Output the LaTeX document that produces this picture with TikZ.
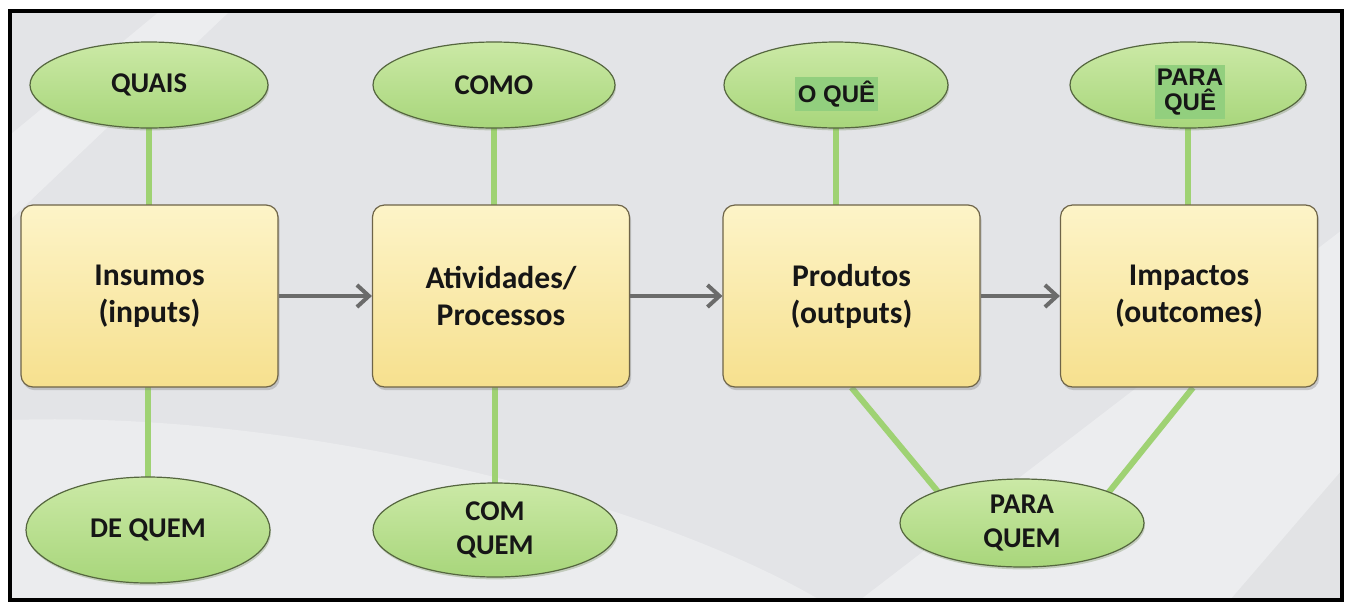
\documentclass[tikz,border=0pt]{standalone}
\usepackage{fontspec}
\setmainfont{Carlito}
\newfontfamily\arialfont{Liberation Sans}
\usetikzlibrary{shapes.geometric,arrows.meta,shadows,backgrounds}
\definecolor{bgc}{HTML}{E3E4E7}
\definecolor{boxtop}{HTML}{FDF4C8}
\definecolor{boxbot}{HTML}{F6E08E}
\definecolor{boxedge}{HTML}{6E6448}
\definecolor{elltop}{HTML}{CBE9A6}
\definecolor{ellbot}{HTML}{A8D67B}
\definecolor{elledge}{HTML}{55663F}
\definecolor{linkc}{HTML}{9FD273}
\definecolor{arrowc}{HTML}{6B6B6B}
\definecolor{hlc}{HTML}{92CF7E}
\definecolor{textc}{HTML}{161616}
\tikzset{
  stagebox/.style={rectangle, rounded corners=6pt, draw=boxedge, line width=0.6pt,
    top color=boxtop, bottom color=boxbot, minimum width=128.5pt, minimum height=91pt,
    align=center, text=textc, font=\bfseries\fontsize{15.8}{18.5}\selectfont,
    drop shadow={opacity=0.35, shadow xshift=0.8pt, shadow yshift=-1.6pt}},
  ell/.style={ellipse, draw=elledge, line width=0.6pt, top color=elltop, bottom color=ellbot,
    inner sep=0pt, align=center, text=textc, font=\bfseries\fontsize{14.3}{16.8}\selectfont,
    drop shadow={opacity=0.3, shadow xshift=0.5pt, shadow yshift=-1.2pt, fill=ellbot!60!black}},
  hltext/.style={fill=hlc, inner xsep=1pt, inner ysep=2pt, align=center, text=textc,
    font=\arialfont\bfseries\fontsize{12}{12.5}\selectfont},
  link/.style={draw=linkc, line width=3pt},
  flow/.style={draw=arrowc, line width=2pt, -{Straight Barb[length=6pt,width=11pt,line width=2pt]}}
}
\begin{document}
\begin{tikzpicture}[x=0.5pt,y=-0.5pt]
\useasboundingbox (0,0) rectangle (1348,606);
% stage boxes
\node[stagebox] (ins)  at (149.5,296) {Insumos\\(inputs)};
\node[stagebox] (ativ) at (501,296) {Atividades/\\Processos};
\node[stagebox] (prod) at (851.5,296) {Produtos\\(outputs)};
\node[stagebox] (imp)  at (1189,296) {Impactos\\(outcomes)};
% top ellipses
\node[ell, minimum width=119pt, minimum height=43pt] (quais) at (149,85) {QUAIS};
\node[ell, minimum width=121pt, minimum height=43pt] (como) at (494,85) {COMO};
\node[ell, minimum width=112pt, minimum height=43pt] (oque) at (836,85) {};
\node[ell, minimum width=118pt, minimum height=43pt] (paraque) at (1188,85) {};
\node[hltext, minimum width=41.5pt] (oquet) at (836.5,94) {O QUÊ};
\node[hltext] (paraquet) at (1190,92) {PARA\\QUÊ};
% bottom ellipses
\node[ell, minimum width=122pt, minimum height=53pt] (dequem) at (148,530) {DE QUEM};
\node[ell, minimum width=122pt, minimum height=47pt] (comquem) at (495,530) {COM\\QUEM};
\node[ell, minimum width=122pt, minimum height=44pt] (paraquem) at (1022,523) {PARA\\QUEM};
\begin{scope}[on background layer]
  \fill[white] (0,0) rectangle (1348,606);
  \fill[bgc] (10,11) rectangle (1342,600);
  \fill[white, opacity=0.35] (10,135) -- (160,11) -- (230,11) -- (10,220) -- cycle;
  \fill[white, opacity=0.3] (10,420) .. controls (300,410) and (650,500) .. (820,600) -- (10,600) -- cycle;
  \fill[white, opacity=0.35] (860,600) -- (1342,230) -- (1342,600) -- cycle;
  \fill[black, opacity=0.04] (1230,600) -- (1342,470) -- (1342,600) -- cycle;
  \draw[link] (quais.center) -- (quais.center |- ins.center);
  \draw[link] (como.center) -- (como.center |- ativ.center);
  \draw[link] (oque.center) -- (oque.center |- prod.center);
  \draw[link] (paraque.center) -- (paraque.center |- imp.center);
  \draw[link] (dequem.center) -- (dequem.center |- ins.center);
  \draw[link] (comquem.center) -- (comquem.center |- ativ.center);
  \draw[link] (prod.south) -- ([xshift=-29pt]paraquem.center);
  \draw[link] ([xshift=2pt]imp.south) -- ([xshift=31pt]paraquem.center);
\end{scope}
% flow arrows
\draw[flow] (ins.east) -- (ativ.west);
\draw[flow] (ativ.east) -- (prod.west);
\draw[flow] (prod.east) -- (imp.west);
% frame
\draw[black, line width=2.4pt] (10,11) rectangle (1342,600);
\end{tikzpicture}
\end{document}
